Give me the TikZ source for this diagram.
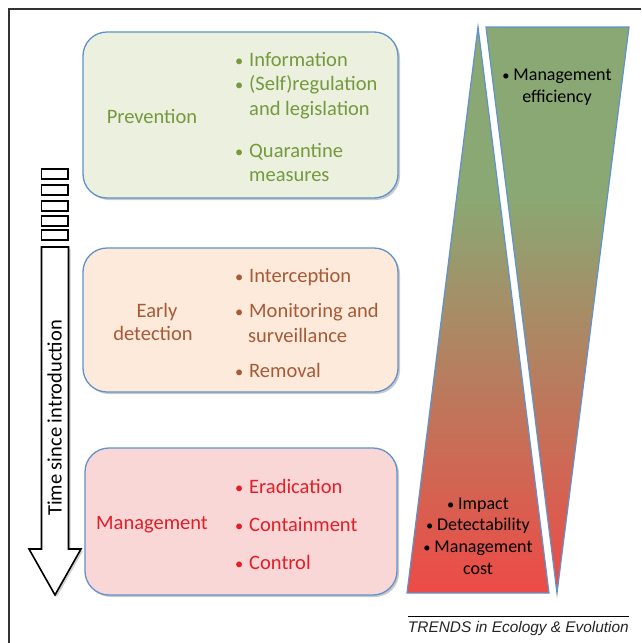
\documentclass[tikz,border=0pt]{standalone}
\usepackage{fontspec}
\setmainfont{Carlito}
\newfontfamily\trendsfont{Liberation Sans}
\usetikzlibrary{shadows}
\definecolor{edgeblue}{RGB}{96,146,204}
\definecolor{prevfill}{RGB}{235,241,222}
\definecolor{prevtext}{RGB}{118,152,62}
\definecolor{earlyfill}{RGB}{253,234,218}
\definecolor{earlytext}{RGB}{166,90,56}
\definecolor{mgmtfill}{RGB}{250,215,215}
\definecolor{mgmttext}{RGB}{226,30,40}
\definecolor{topgreen}{RGB}{138,168,115}
\definecolor{botred}{RGB}{238,74,70}
\pgfdeclareverticalshading{wedgeshade}{100bp}{color(0bp)=(botred); color(25bp)=(botred); color(60bp)=(topgreen); color(100bp)=(topgreen)}
\newcommand{\bul}{\makebox[15pt][l]{\hspace{1pt}\scalebox{0.8}{•}}}
\newcommand{\tbul}{\makebox[11pt][l]{\scalebox{0.8}{•}}}
\tikzset{
  stagebox/.style={draw=edgeblue, line width=1.3pt, rounded corners=24pt,
    drop shadow={shadow xshift=2pt, shadow yshift=-2pt, opacity=0.35, fill=black!60}},
  txt/.style={font=\fontsize{20.5}{24}\selectfont, text height=14pt, text depth=5pt, inner sep=0pt},
  trtxt/.style={font=\fontsize{18}{21.7}\selectfont, align=center, inner sep=0pt, text=black},
  arrowline/.style={draw=black, line width=1.6pt, fill=white},
}
\begin{document}
\begin{tikzpicture}[x=1pt,y=-1pt]
\useasboundingbox (0,0) rectangle (641,643);
\fill[white] (0,0) rectangle (641,643);
% frame
\draw[line width=1.3pt, black!80] (9,643) -- (9,9) -- (641,9);

% stage boxes
\node[stagebox, fill=prevfill, minimum width=315pt, minimum height=166pt] (prev) at (240.5,115) {};
\node[stagebox, fill=earlyfill, minimum width=315pt, minimum height=144pt] (early) at (240.5,320) {};
\node[stagebox, fill=mgmtfill, minimum width=312pt, minimum height=147pt] (mgmt) at (241,521.5) {};

% prevention texts
\begin{scope}[txt, text=prevtext]
\node[anchor=center] (prevlab) at (152,119) {Prevention};
\node[anchor=west] (p1) at (234,62) {\bul Information};
\node[anchor=west] (p2) at (234,86) {\bul (Self)regulation};
\node[anchor=west] (p3) at (249,111) {and legislation};
\node[anchor=west] (p4) at (234,153) {\bul Quarantine};
\node[anchor=west] (p5) at (249,177) {measures};
\end{scope}

% early detection texts
\begin{scope}[txt, text=earlytext]
\node[anchor=center] (earlylab1) at (157,313) {Early};
\node[anchor=center] (earlylab2) at (153,336) {detection};
\node[anchor=west] (e1) at (234,278) {\bul Interception};
\node[anchor=west] (e2) at (234,313) {\bul Monitoring and};
\node[anchor=west] (e3) at (248,338) {surveillance};
\node[anchor=west] (e4) at (234,373) {\bul Removal};
\end{scope}

% management texts
\begin{scope}[txt, text=mgmttext]
\node[anchor=center] (mgmtlab) at (152,525) {Management};
\node[anchor=west] (m1) at (234,489) {\bul Eradication};
\node[anchor=west] (m2) at (234,527) {\bul Containment};
\node[anchor=west] (m3) at (234,565) {\bul Control};
\end{scope}

% time arrow
\foreach \yy/\nm in {169/d1,185/d2,201/d3,216/d4,230/d5}{
  \draw[line width=1.5pt, fill=white, drop shadow={shadow xshift=1pt, shadow yshift=-1pt, opacity=0.3}] (41.5,\yy) rectangle (68,\yy+10);
}
\path[arrowline, drop shadow={shadow xshift=2pt, shadow yshift=-2pt, opacity=0.35}]
  (41.5,247) -- (68.5,247) -- (68.5,549) -- (81,549) -- (55,595) -- (29,549) -- (41.5,549) -- cycle;
\node[txt, text=black, rotate=90] (timelab) at (57,418) {Time since introduction};

% wedges
\shade[shading=wedgeshade] (478,27) -- (549,593) -- (407,593) -- cycle;
\draw[edgeblue, line width=1.2pt] (478,27) -- (549,593) -- (407,593) -- cycle;
\shade[shading=wedgeshade] (486,27) -- (629,27) -- (557,593) -- cycle;
\draw[edgeblue, line width=1.2pt] (486,27) -- (629,27) -- (557,593) -- cycle;

\node[trtxt] (eff) at (557,87) {\tbul Management\\efficiency};
\node[trtxt] (imp) at (478,536) {\tbul Impact\\\tbul Detectability\\\tbul Management\\cost};

% footer
\draw[line width=0.8pt] (408,616) -- (629,616);
\node[font=\trendsfont\itshape\fontsize{15.4}{17}\selectfont, text=black!85, anchor=east, inner sep=0pt] (trends) at (629,629) {TRENDS in Ecology \& Evolution};
\end{tikzpicture}
\end{document}
